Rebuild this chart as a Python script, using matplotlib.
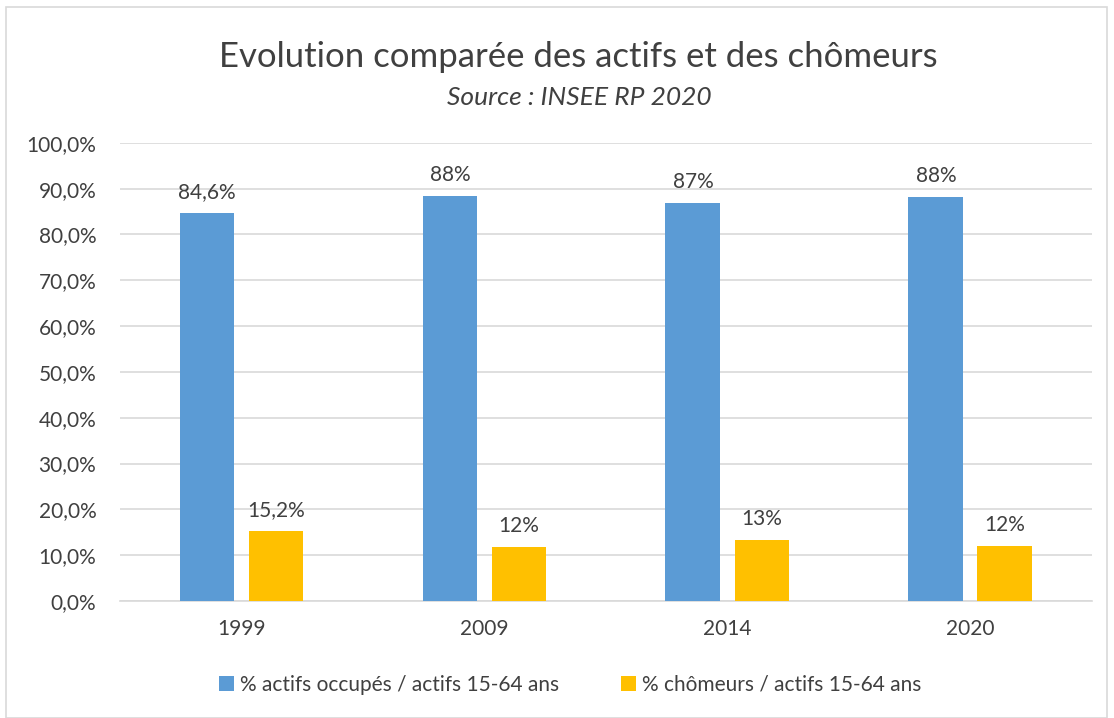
import matplotlib.pyplot as plt
import numpy as np
from matplotlib.patches import Rectangle
from matplotlib.ticker import FuncFormatter

plt.rcParams['font.family'] = ['Lato', 'DejaVu Sans']

years = ['1999', '2009', '2014', '2020']
actifs = [84.6, 88.4, 86.8, 88.1]
chomeurs = [15.2, 11.7, 13.3, 12.0]
actifs_labels = ['84,6%', '88%', '87%', '88%']
chomeurs_labels = ['15,2%', '12%', '13%', '12%']
series_names = ['% actifs occupés / actifs 15-64 ans', '% chômeurs / actifs 15-64 ans']

blue = '#5b9bd5'
gold = '#ffc000'
txt = '#404040'

fig = plt.figure(figsize=(11.14, 7.18), dpi=100)
ax = fig.add_axes([0.1077, 0.163, 0.8725, 0.638])

# cadre extérieur
fig.patches.append(Rectangle((0.005, 0.0), 0.989, 0.99, transform=fig.transFigure,
                             fill=False, edgecolor='#d9d9d9', linewidth=1.2))

x = np.arange(len(years))
w = 0.226
off = 0.142
b1 = ax.bar(x - off, actifs, w, color=blue, label=series_names[0], zorder=3)
b2 = ax.bar(x + off, chomeurs, w, color=gold, label=series_names[1], zorder=3)

for bars, labs in ((b1, actifs_labels), (b2, chomeurs_labels)):
    for bar, lab in zip(bars, labs):
        ax.annotate(lab, (bar.get_x() + bar.get_width() / 2, bar.get_height()),
                    xytext=(0, 8), textcoords='offset points', ha='center', va='bottom',
                    fontsize=15, color=txt)

ax.set_xlim(-0.5, len(years) - 0.5)
ax.set_ylim(0, 100)
ax.set_yticks(np.arange(0, 101, 10))
ax.yaxis.set_major_formatter(FuncFormatter(lambda v, p: f'{v:.1f}%'.replace('.', ',')))
ax.set_xticks(x)
ax.set_xticklabels(years)
ax.tick_params(axis='both', length=0, labelsize=15, colors=txt)
ax.tick_params(axis='x', pad=13)
ax.tick_params(axis='y', pad=17)
ax.grid(axis='y', color='#d9d9d9', linewidth=1.2, zorder=0)
for s in ['top', 'right', 'left']:
    ax.spines[s].set_visible(False)
ax.spines['bottom'].set_color('#d9d9d9')
ax.spines['bottom'].set_linewidth(1.2)

fig.text(0.519, 0.921, 'Evolution comparée des actifs et des chômeurs', ha='center', va='center',
         fontsize=25, color=txt)
fig.text(0.52, 0.864, 'Source : INSEE RP 2020', ha='center', va='center',
         fontsize=19, style='italic', color=txt)

fig.legend(loc='center', bbox_to_anchor=(0.512, 0.046), ncol=2, frameon=False, fontsize=15,
           handlelength=0.7, handleheight=0.7, handletextpad=0.3, columnspacing=3.0,
           labelcolor=txt)

fig.savefig('out.png', dpi=100)
